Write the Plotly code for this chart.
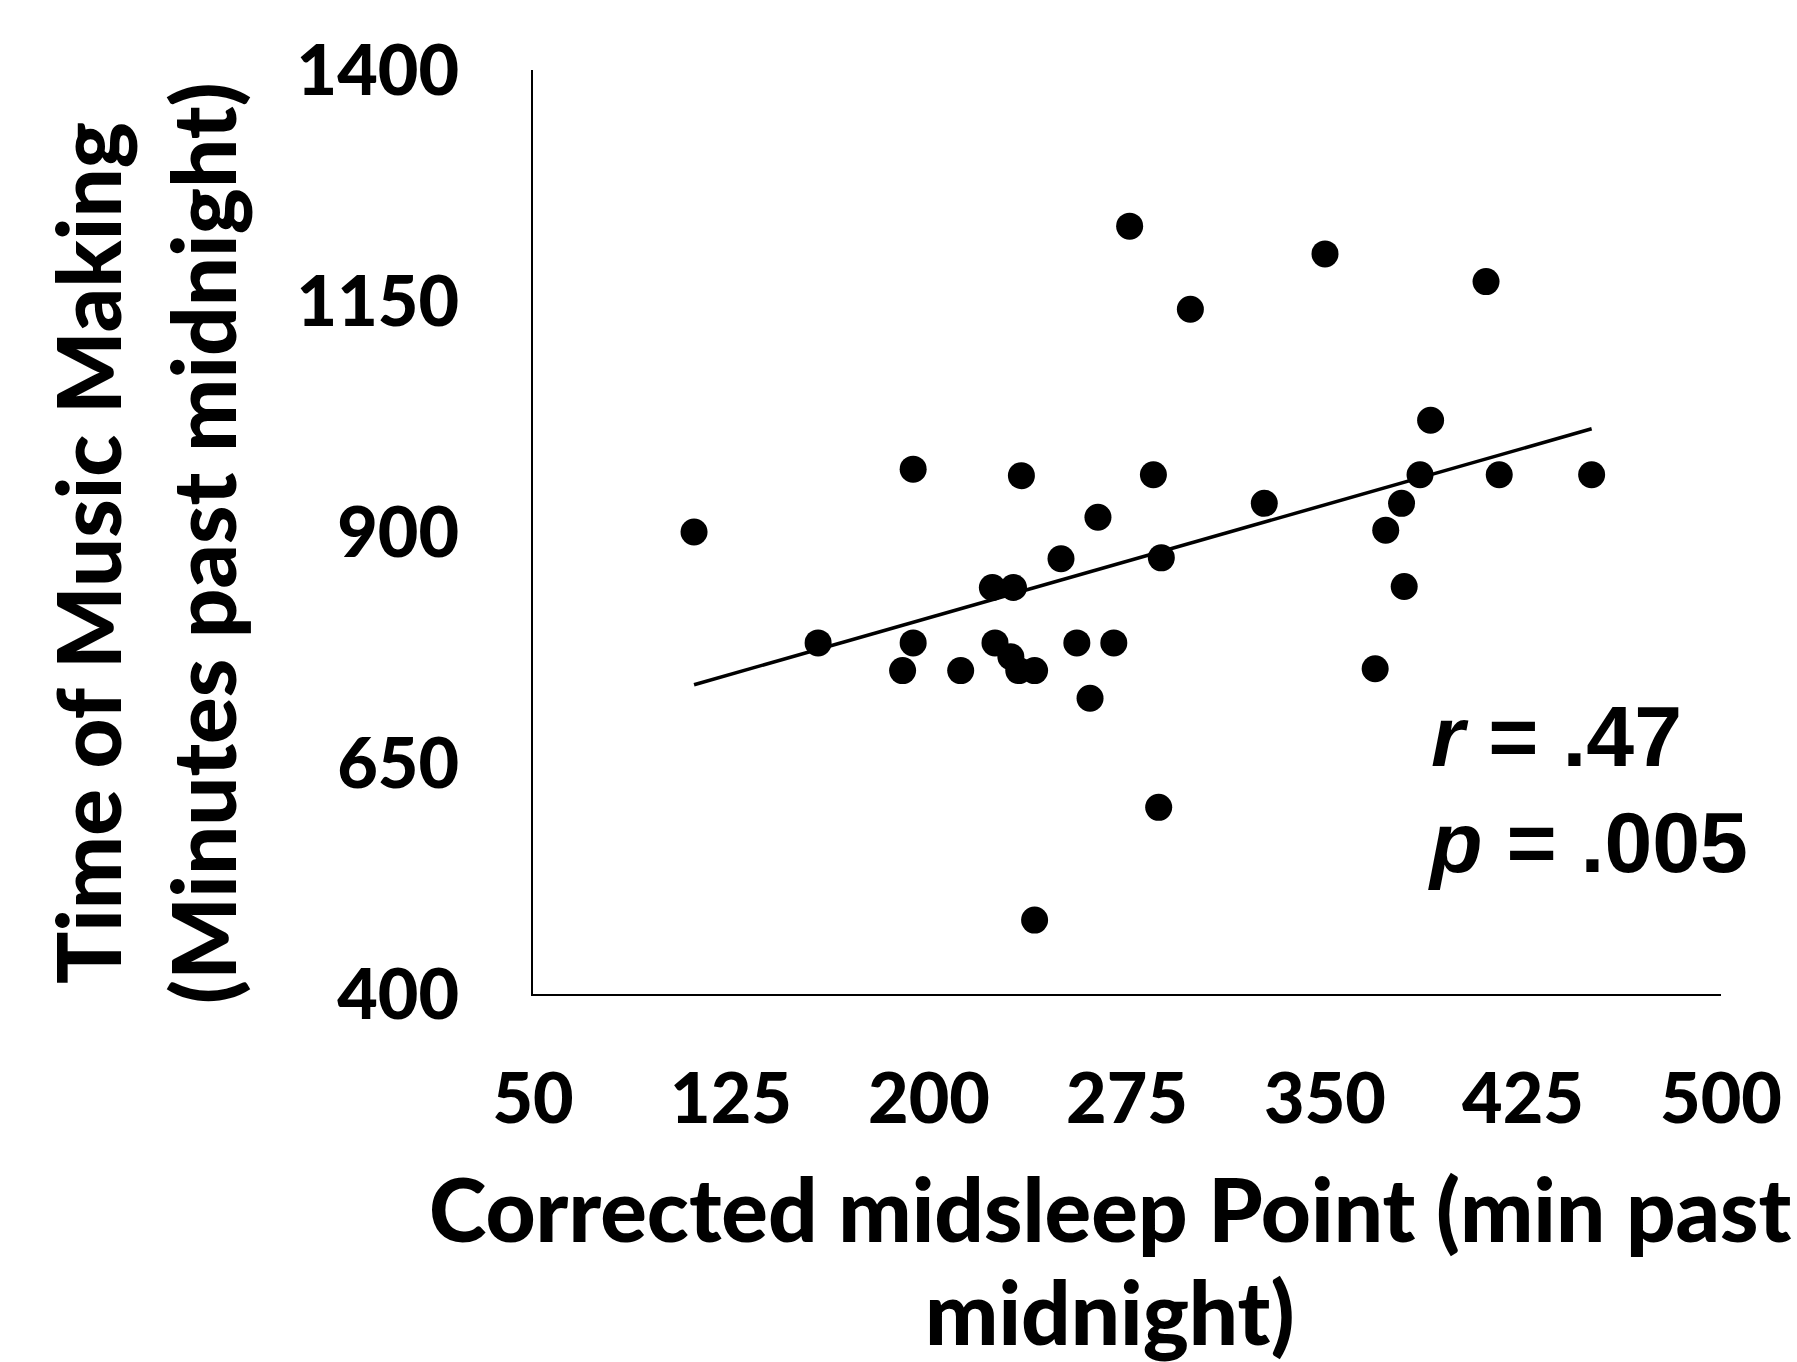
import numpy as np
import plotly.graph_objects as go

# Data
midsleep = [111, 158, 194, 194, 190, 212, 224, 232, 225, 231, 234, 240, 235, 240,
            250, 256, 261, 264, 270, 276, 285, 288, 287, 299, 327, 350, 369, 373,
            379, 380, 386, 390, 411, 416, 451]
music_time = [900, 780, 968, 780, 750, 750, 840, 840, 780, 765, 750, 750, 961, 480,
              871, 780, 720, 916, 780, 1231, 962, 872, 602, 1141, 931, 1201, 752, 902,
              931, 841, 962, 1021, 1171, 962, 962]

x_ticks = [50, 125, 200, 275, 350, 425, 500]
y_ticks = [400, 650, 900, 1150, 1400]

x_title_lines = ["Corrected midsleep Point (min past", "midnight)"]
y_title_lines = ["Time of Music Making", "(Minutes past midnight)"]
stat_lines = ["<i>r</i> = .47", "<i>p</i> = .005"]

# Linear regression line
slope, intercept = np.polyfit(midsleep, music_time, 1)
fit_x = [min(midsleep), max(midsleep)]
fit_y = [slope * v + intercept for v in fit_x]

WEIGHT = 900
TICK_FONT = dict(family="Lato", size=70, color="black", weight=WEIGHT)
TITLE_FONT = dict(family="Lato", size=87, color="black", weight=WEIGHT)
STAT_FONT = dict(family="Liberation Sans", size=86, color="black", weight="bold")

fig = go.Figure()
fig.add_trace(go.Scatter(x=fit_x, y=fit_y, mode="lines",
                         line=dict(color="black", width=3.5), showlegend=False,
                         hoverinfo="skip"))
fig.add_trace(go.Scatter(x=midsleep, y=music_time, mode="markers",
                         marker=dict(color="black", size=27, line=dict(width=0)),
                         showlegend=False, cliponaxis=False))

fig.update_layout(
    width=1797, height=1362,
    margin=dict(l=533, r=76, t=70, b=368),
    plot_bgcolor="white", paper_bgcolor="white",
    font=dict(family="Lato", color="black"),
    xaxis=dict(range=[50, 500], tickvals=x_ticks, ticktext=[str(v) for v in x_ticks],
               showgrid=False, zeroline=False, showline=True, linecolor="black",
               linewidth=2, ticks="", tickfont=TICK_FONT,
               ticklabelstandoff=43),
    yaxis=dict(range=[400, 1400], tickvals=y_ticks, ticktext=[str(v) for v in y_ticks],
               showgrid=False, zeroline=False, showline=True, linecolor="black",
               linewidth=2, ticks="", tickfont=TICK_FONT,
               ticklabelstandoff=58),
)

annotations = [
    dict(text=x_title_lines[0], x=0.4857, y=-0.232),
    dict(text=x_title_lines[1], x=0.4857, y=-0.344),
    dict(text=y_title_lines[0], x=-0.3746, y=0.4773, textangle=-90),
    dict(text=y_title_lines[1], x=-0.2778, y=0.4881, textangle=-90),
]
for a in annotations:
    fig.add_annotation(xref="paper", yref="paper", showarrow=False,
                       xanchor="center", yanchor="middle",
                       font=TITLE_FONT, **a)

fig.add_annotation(text=stat_lines[0], xref="paper", yref="paper", x=0.754, y=0.279,
                   xanchor="left", yanchor="middle", showarrow=False, font=STAT_FONT)
fig.add_annotation(text=stat_lines[1], xref="paper", yref="paper", x=0.7517, y=0.164,
                   xanchor="left", yanchor="middle", showarrow=False, font=STAT_FONT)

fig.write_html("out.html")
